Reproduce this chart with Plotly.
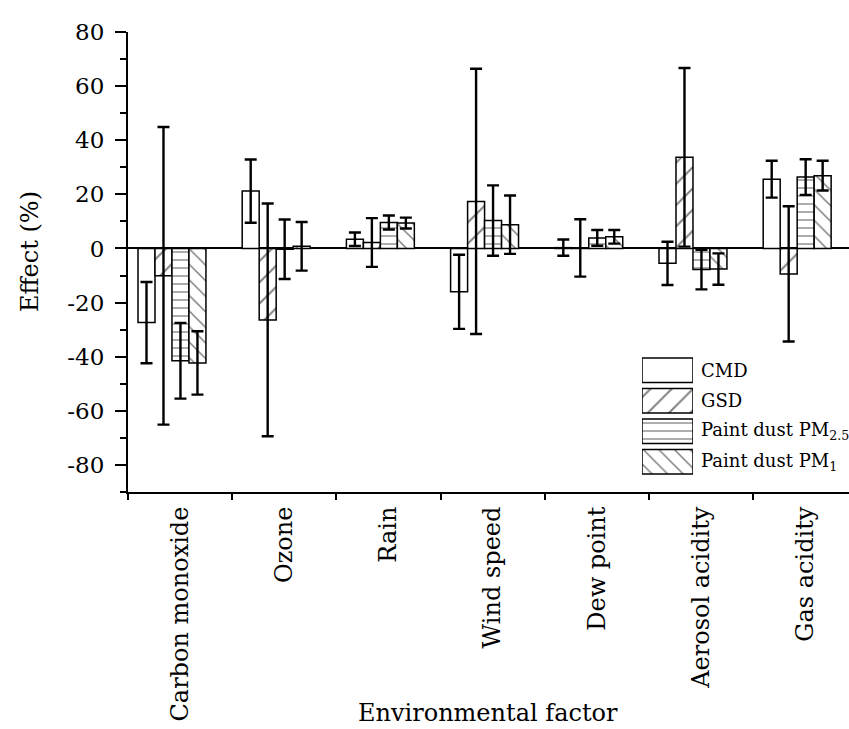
import plotly.graph_objects as go

categories = ["Carbon monoxide", "Ozone", "Rain", "Wind speed", "Dew point", "Aerosol acidity", "Gas acidity"]
series_names = ["CMD", "GSD", "Paint dust PM<sub>2.5</sub>", "Paint dust PM<sub>1</sub>"]

cmd = [-27.4, 21.2, 3.4, -16.0, 0.3, -5.5, 25.6]
cmd_err = [15.0, 11.7, 2.5, 13.7, 3.0, 8.0, 6.8]
gsd = [-10.1, -26.4, 2.2, 17.4, 0.2, 33.7, -9.4]
gsd_err = [55.0, 43.0, 9.0, 49.0, 10.6, 33.0, 25.0]
pm25 = [-41.5, -0.3, 9.6, 10.3, 3.9, -7.8, 26.4]
pm25_err = [14.0, 11.0, 2.6, 13.0, 2.9, 7.3, 6.6]
pm1 = [-42.3, 0.8, 9.4, 8.8, 4.3, -7.6, 26.9]
pm1_err = [11.7, 9.0, 2.0, 10.8, 2.5, 5.8, 5.5]

y_ticks = [-80, -60, -40, -20, 0, 20, 40, 60, 80]
y_tick_labels = ["-80", "-60", "-40", "-20", "0", "20", "40", "60", "80"]

values = [cmd, gsd, pm25, pm1]
errors = [cmd_err, gsd_err, pm25_err, pm1_err]
patterns = [dict(shape=""), dict(shape="/", size=15, solidity=0.13),
            dict(shape="-", size=8, solidity=0.16), dict(shape="\\", size=11, solidity=0.14)]

FONT = "DejaVu Serif"
W, H = 849, 729
L, R, T, B = 128, 0, 32, 237
plot_w = W - L - R
plot_h = H - T - B
cat_px = 104.2
x_hi = -0.5 + plot_w / cat_px

bar_w = 0.163
start = -0.404

def py(pixel_y):
    return (H - B - pixel_y) / plot_h

def px(pixel_x):
    return (pixel_x - L) / plot_w

fig = go.Figure()
for i, (name, v, e, p) in enumerate(zip(series_names, values, errors, patterns)):
    pat = dict(fgcolor="black", bgcolor="white", fillmode="overlay", **p)
    fig.add_trace(go.Bar(
        x=categories, y=v, name=name, width=bar_w, offset=start + i * bar_w,
        marker=dict(color="white", line=dict(color="black", width=1.5), pattern=pat),
        error_y=dict(type="data", array=e, visible=True, color="black", thickness=2.4, width=6),
        showlegend=False, xaxis="x", yaxis="y",
    ))
    # legend swatch drawn as an inset bar
    fig.add_trace(go.Bar(
        x=[1], y=[i], base=0, orientation="h", width=0.8,
        marker=dict(color="white", line=dict(color="black", width=1.5), pattern=pat),
        showlegend=False, xaxis="x2", yaxis="y2", hoverinfo="skip",
    ))
    fig.add_annotation(x=px(699), y=i, xref="paper", yref="y2", text=name,
                       showarrow=False, xanchor="left", yanchor="middle",
                       font=dict(family=FONT, size=18, color="black"))

fig.add_annotation(x=px(488), y=py(713), xref="paper", yref="paper", text="Environmental factor",
                   showarrow=False, xanchor="center", yanchor="middle",
                   font=dict(family=FONT, size=24, color="black"))
fig.add_annotation(x=px(30), y=py(252), xref="paper", yref="paper", text="Effect (%)",
                   showarrow=False, xanchor="center", yanchor="middle", textangle=-90,
                   font=dict(family=FONT, size=24, color="black"))

leg_top, leg_bot = 355, 477
fig.update_layout(
    width=W, height=H, margin=dict(l=L, r=R, t=T, b=B, autoexpand=False),
    paper_bgcolor="white", plot_bgcolor="white",
    barmode="overlay", showlegend=False,
    font=dict(family=FONT, color="black", size=23),
    xaxis=dict(type="category", range=[-0.5, x_hi], showline=True, linecolor="black", linewidth=2,
               ticks="outside", tickson="boundaries", ticklen=6, tickwidth=2, tickcolor="black",
               tickangle=-90, tickfont=dict(family=FONT, size=24), showgrid=False, zeroline=False,
               ticklabelstandoff=3, automargin=False),
    yaxis=dict(range=[-90, 80], showline=True, linecolor="black", linewidth=2,
               tickmode="array", tickvals=y_ticks, ticktext=y_tick_labels,
               ticks="outside", ticklen=11, tickwidth=2, tickcolor="black",
               minor=dict(tickvals=list(range(-90, 81, 10)), ticks="outside", ticklen=6, tickwidth=2, tickcolor="black"),
               tickfont=dict(family=FONT, size=23), showgrid=False, ticklabelstandoff=6,
               zeroline=True, zerolinecolor="black", zerolinewidth=2, automargin=False),
    xaxis2=dict(domain=[px(642), px(693)], range=[0, 1], visible=False, anchor="y2"),
    yaxis2=dict(domain=[py(leg_bot), py(leg_top)], range=[3.5, -0.5], visible=False, anchor="x2"),
)

fig.write_html("out.html")
